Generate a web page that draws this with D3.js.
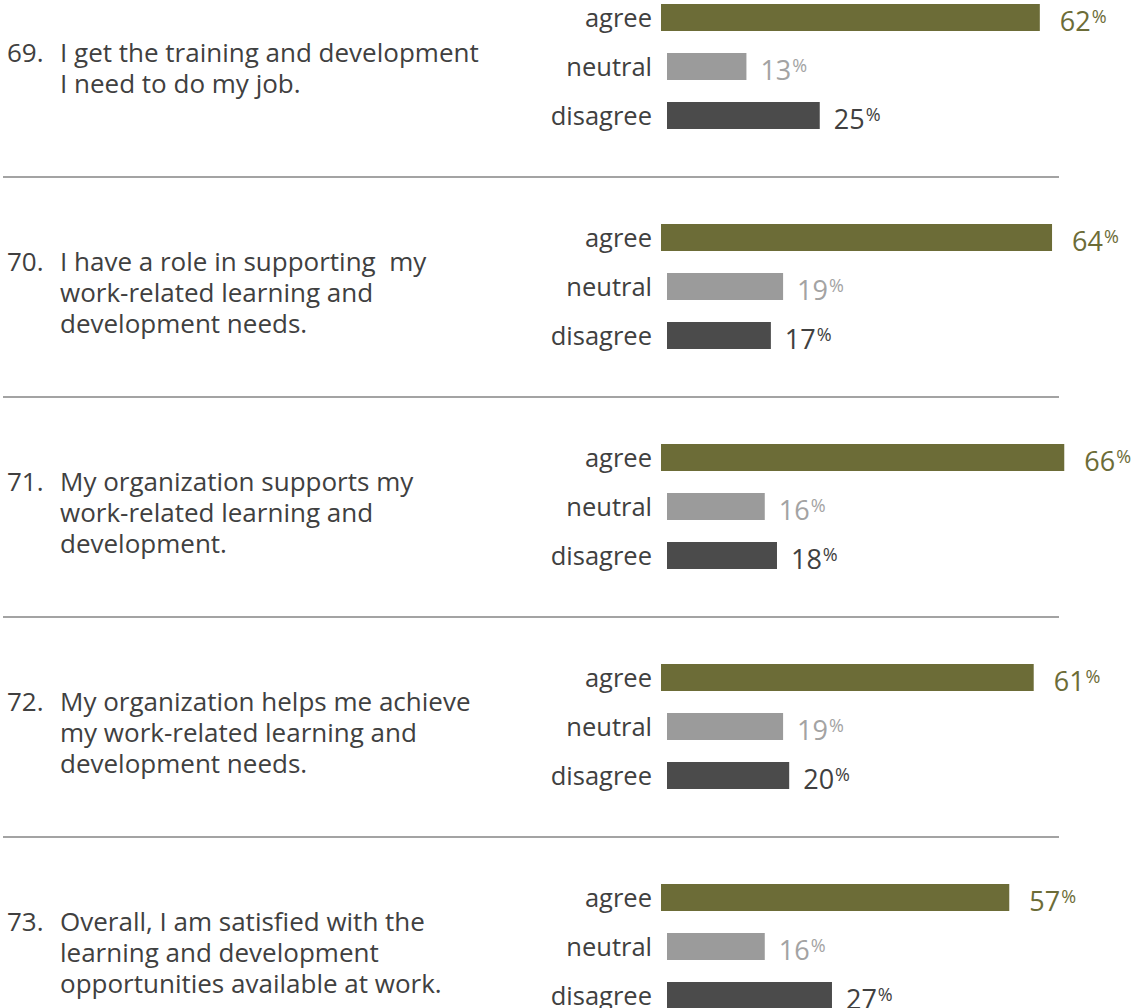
<!DOCTYPE html>
<html>
<head>
<meta charset="utf-8">
<script src="https://cdn.jsdelivr.net/npm/d3@7/dist/d3.min.js"></script>
<style>
  html, body { margin: 0; padding: 0; background: #ffffff; }
  svg { display: block; font-family: "Open Sans", "DejaVu Sans", sans-serif; }
</style>
</head>
<body>
<svg id="chart" width="1134" height="1008"></svg>
<script>
// ---- data ----
const questionNumbers = ["69.", "70.", "71.", "72.", "73."];
const questionLines = [
  ["I get the training and development", "I need to do my job."],
  ["I have a role in supporting  my", "work-related learning and", "development needs."],
  ["My organization supports my", "work-related learning and", "development."],
  ["My organization helps me achieve", "my work-related learning and", "development needs."],
  ["Overall, I am satisfied with the", "learning and development", "opportunities available at work."]
];
const categories = ["agree", "neutral", "disagree"];
const agreeValues = [62, 64, 66, 61, 57];
const neutralValues = [13, 19, 16, 19, 16];
const disagreeValues = [25, 17, 18, 20, 27];

// ---- layout ----
const svg = d3.select("#chart");
const seriesByCat = { agree: agreeValues, neutral: neutralValues, disagree: disagreeValues };
const barColor = { agree: "#6c6c37", neutral: "#9b9b9b", disagree: "#4b4b4b" };
const valueColor = { agree: "#6c6c37", neutral: "#a3a3a3", disagree: "#404040" };
const barStart = { agree: 661, neutral: 667, disagree: 667 };
const labelGap = { agree: 20, neutral: 14, disagree: 14 };
const textColor = "#404040";

const groupY = d3.scaleBand().domain(d3.range(questionNumbers.length)).range([4, 4 + 220 * 5]);
const rowY = d3.scalePoint().domain(categories).range([0, 98]);
const barH = 27;
const x = d3.scaleLinear().domain([0, 100]).range([0, 611]);

const groups = svg.selectAll("g.q")
  .data(questionNumbers.map((n, i) => ({ n, i })))
  .join("g")
  .attr("class", "q")
  .attr("transform", d => `translate(0,${groupY(d.i)})`);

// question text
groups.each(function(d) {
  const g = d3.select(this);
  const first = d.i === 0 ? 58 : 47;
  g.append("text")
    .attr("x", 7).attr("y", first)
    .attr("font-size", 26).attr("fill", textColor)
    .text(d.n);
  g.selectAll("text.line")
    .data(questionLines[d.i])
    .join("text")
    .attr("class", "line")
    .attr("x", 60)
    .attr("y", (t, k) => first + k * 31)
    .attr("font-size", 26).attr("fill", textColor)
    .style("white-space", "pre")
    .text(t => t);
});

// rows
groups.each(function(d) {
  const g = d3.select(this);
  const rows = g.selectAll("g.row")
    .data(categories.map(c => ({ c, v: seriesByCat[c][d.i] })))
    .join("g")
    .attr("class", "row")
    .attr("transform", r => `translate(0,${rowY(r.c)})`);

  rows.append("text")
    .attr("x", 652).attr("y", 22.5)
    .attr("text-anchor", "end")
    .attr("font-size", 25.5)
    .attr("fill", textColor)
    .text(r => r.c);

  rows.append("rect")
    .attr("x", r => barStart[r.c])
    .attr("y", 0)
    .attr("width", r => x(r.v))
    .attr("height", barH)
    .attr("fill", r => barColor[r.c]);

  const lab = rows.append("text")
    .attr("x", r => barStart[r.c] + x(r.v) + labelGap[r.c])
    .attr("y", barH - 0.5)
    .attr("font-size", 27)
    .attr("fill", r => valueColor[r.c]);
  lab.append("tspan").text(r => r.v);
  lab.append("tspan")
    .attr("font-size", 18)
    .attr("dx", 1)
    .attr("dy", -8)
    .text("%");
});

// separators
svg.selectAll("line.sep")
  .data(d3.range(questionNumbers.length - 1))
  .join("line")
  .attr("class", "sep")
  .attr("x1", 3).attr("x2", 1059)
  .attr("y1", i => groupY(i) + 173)
  .attr("y2", i => groupY(i) + 173)
  .attr("stroke", "#a3a3a3")
  .attr("stroke-width", 2);
</script>
</body>
</html>
